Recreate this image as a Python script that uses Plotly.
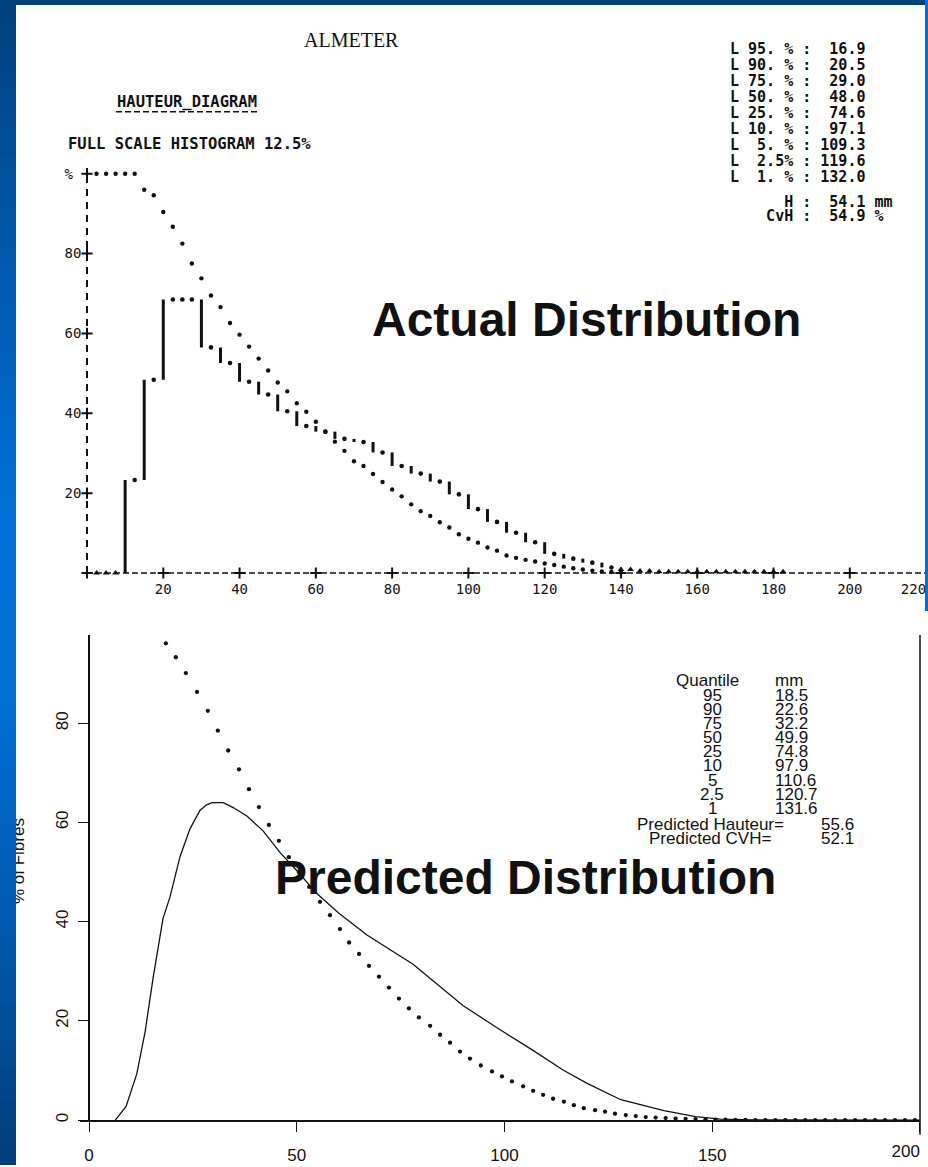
import plotly.graph_objects as go

FIG_W, FIG_H = 928, 1167

# ---------------- data : top panel (ALMETER printout) ----------------
hist_left = [0, 5, 10, 15, 20, 25, 30, 35, 40, 45, 50, 55, 60, 65, 70, 75, 80, 85, 90, 95,
             100, 105, 110, 115, 120, 125, 130, 135, 140, 145, 150, 155, 160, 165, 170, 175, 180]
hist_val = [0, 0, 23.3, 48.4, 68.5, 68.5, 56.5, 52.6, 47.9, 44.7, 40.5, 36.8, 35.4, 33.6, 32.8, 30.2,
            26.8, 24.9, 22.9, 19.7, 16.0, 12.8, 10.1, 7.7, 4.8, 3.6, 2.6, 1.4, 0.9, 0.5,
            0.3, 0.3, 0.3, 0.3, 0.3, 0.3, 0.3]
cum_x = [2.5, 5, 7.5, 10, 12.5, 15, 17.5, 20, 22.5, 25, 27.5, 30, 32.5, 35, 37.5, 40, 42.5, 45,
         47.5, 50, 52.5, 55, 57.5, 60, 62.5, 65, 67.5, 70, 72.5, 75, 77.5, 80, 82.5, 85, 87.5,
         90, 92.5, 95, 97.5, 100, 102.5, 105, 107.5, 110, 112.5, 115, 117.5, 120, 122.5, 125,
         127.5, 130, 132.5, 135, 137.5, 140]
cum_y = [100, 100, 100, 100, 100, 96.0, 94.6, 90.4, 86.7, 82.5, 77.5, 73.8, 69.5, 66.6, 62.6,
         59.7, 56.7, 53.7, 50.7, 47.7, 45.5, 42.5, 40.4, 37.9, 35.4, 32.9, 30.6, 28.0, 26.8, 24.8,
         22.8, 20.9, 19.2, 17.2, 15.5, 14.3, 12.7, 11.4, 9.7, 8.6, 7.6, 6.4, 5.6, 4.4, 3.8, 3.3,
         2.9, 2.4, 2.0, 1.6, 1.2, 0.9, 0.6, 0.4, 0.25, 0.15]
top_xticks = [20, 40, 60, 80, 100, 120, 140, 160, 180, 200]
top_xtick_edge = [220]
top_yticks = [20, 40, 60, 80, 100]
top_ytext = ["20", "40", "60", "80", "%"]
top_q_labels = ["95.", "90.", "75.", "50.", "25.", "10.", "5.", "2.5", "1."]
top_q_values = [16.9, 20.5, 29.0, 48.0, 74.6, 97.1, 109.3, 119.6, 132.0]
top_stat_labels = ["H", "CvH"]
top_stat_values = [54.1, 54.9]
top_stat_units = ["mm", "%"]

# ---------------- data : bottom panel (predicted) ----------------
pred_x = [6.3, 8.9, 11.5, 13.5, 15.4, 17.8, 19.5, 21.9, 24.3, 26.7, 28.2, 29.6, 32.3, 34.7, 38.0,
          41.9, 46.0, 50.0, 54.9, 60.0, 66.9, 78.0, 90.0, 98.2, 106.4, 114.3, 119.9, 128.0,
          138.4, 146.0, 152.0, 160.0, 200.0]
pred_y = [0, 2.7, 9.3, 17.8, 28.5, 40.6, 45.0, 53.1, 58.7, 62.4, 63.5, 64.0, 64.0, 63.0, 61.3,
          58.3, 53.9, 50.3, 45.6, 41.8, 37.3, 31.4, 23.1, 18.6, 14.3, 10.0, 7.4, 4.1,
          1.9, 0.7, 0.2, 0.05, 0]
pcum_x = [18.5, 20.9, 23.3, 26.0, 28.6, 31.0, 33.5, 36.1, 38.5, 40.9, 43.3, 45.7, 48.1, 50.5,
          53.0, 55.6, 58.0, 60.4, 62.6, 65.0, 67.4, 69.8, 72.2, 74.6, 77.0, 79.4, 82.1, 84.5,
          86.9, 89.3, 91.7, 94.3, 97.0, 99.4, 101.8, 104.5, 106.9, 109.3, 111.7, 114.3, 116.7,
          119.1, 121.8, 124.2, 126.6, 129.2, 131.6, 134.0, 136.4, 138.8, 141.2, 143.6, 146.0,
          148.4, 150.8, 153.2, 155.6, 158.0, 160.4, 162.8, 165.2, 167.6, 170.0, 172.4, 174.8,
          177.2, 179.6, 182.0, 184.4, 186.8, 189.2, 191.6, 194.0, 196.4, 198.8]
pcum_y = [96.1, 93.3, 90.1, 86.3, 82.5, 78.5, 74.5, 70.7, 66.7, 63.1, 59.5, 56.3, 53.0, 50.0,
          47.0, 44.0, 41.3, 38.5, 35.8, 33.5, 31.1, 28.9, 26.7, 24.5, 22.5, 20.7, 19.0, 17.2,
          15.6, 13.8, 12.4, 11.0, 9.8, 8.8, 7.8, 6.8, 5.9, 5.1, 4.3, 3.7, 3.0,
          2.4, 2.0, 1.7, 1.3, 1.0, 0.8, 0.6, 0.5, 0.4, 0.3, 0.25, 0.2,
          0.15, 0.1, 0.1, 0.05, 0.05, 0, 0, 0, 0, 0, 0, 0,
          0, 0, 0, 0, 0, 0, 0, 0, 0, 0]
bot_xticks = [0, 50, 100, 150, 200]
bot_yticks = [0, 20, 40, 60, 80]
pred_q_labels = ["95", "90", "75", "50", "25", "10", "5", "2.5", "1"]
pred_q_mm = [18.5, 22.6, 32.2, 49.9, 74.8, 97.9, 110.6, 120.7, 131.6]
pred_stat_labels = ["Predicted Hauteur=", "Predicted CVH="]
pred_stat_values = [55.6, 52.1]

# ---------------- helpers ----------------
def px(x):
    return x / FIG_W


def py(y):
    return 1 - y / FIG_H


def nb(s):
    return s.replace(" ", "\u00a0")


MONO = "DejaVu Sans Mono"
SANS = "Liberation Sans, Arial, sans-serif"
SERIF = "Liberation Serif, Times New Roman, serif"
INK = "#111111"

fig = go.Figure()

# ---------------- top panel marks ----------------
bar_x, bar_y, dot_x, dot_y = [], [], [], []
bw = hist_left[1] - hist_left[0]
for i, (l, v) in enumerate(zip(hist_left, hist_val)):
    prev = hist_val[i - 1] if i > 0 else 0
    if i > 0 and abs(v - prev) > 0.5:
        bar_x += [l, l, None]
        bar_y += [prev, v, None]
    elif l > 0:
        dot_x.append(l)
        dot_y.append(v)
    dot_x.append(l + bw / 2)
    dot_y.append(v)
dot_sym = ["triangle-up" if v < 1 else "circle" for v in dot_y]

# dashed axes of the printout
fig.add_trace(go.Scatter(x=[0, 0], y=[0, top_yticks[-1]], mode="lines",
                         line=dict(color=INK, width=2, dash="7px,6px"), hoverinfo="skip"))
fig.add_trace(go.Scatter(x=[0, top_xtick_edge[-1]], y=[0, 0], mode="lines",
                         line=dict(color=INK, width=1.6, dash="6px,3px"), hoverinfo="skip"))
plus_x = [0] + top_xticks + [0] * len(top_yticks)
plus_y = [0] + [0] * len(top_xticks) + top_yticks
fig.add_trace(go.Scatter(x=plus_x, y=plus_y, mode="markers", cliponaxis=False,
                         marker=dict(symbol="cross-thin", size=8,
                                     line=dict(color=INK, width=2)), hoverinfo="skip"))
fig.add_trace(go.Scatter(x=bar_x, y=bar_y, mode="lines", line=dict(color=INK, width=3),
                         hoverinfo="skip"))
fig.add_trace(go.Scatter(x=dot_x, y=dot_y, mode="markers", cliponaxis=False,
                         marker=dict(color=INK, opacity=1,
                                     size=[6 if s != "circle" else 4.6 for s in dot_sym],
                                     symbol=dot_sym, line=dict(width=0)), hoverinfo="skip"))
fig.add_trace(go.Scatter(x=cum_x, y=cum_y, mode="markers", cliponaxis=False,
                         marker=dict(color=INK, size=4.4, line=dict(width=0)), hoverinfo="skip"))
# carrier for the edge tick-label axis of the top panel
fig.add_trace(go.Scatter(x=[100], y=[50], mode="markers", xaxis="x4", yaxis="y",
                         marker=dict(opacity=0), hoverinfo="skip"))

# ---------------- bottom panel marks ----------------
fig.add_trace(go.Scatter(x=pred_x, y=pred_y, mode="lines", xaxis="x2", yaxis="y2",
                         line=dict(color=INK, width=1.3), hoverinfo="skip"))
fig.add_trace(go.Scatter(x=pcum_x, y=pcum_y, mode="markers", xaxis="x2", yaxis="y2",
                         cliponaxis=False, marker=dict(color=INK, size=4.3, line=dict(width=0)),
                         hoverinfo="skip"))
# carriers for the (partly hidden) y title axis and the edge tick-label axis
fig.add_trace(go.Scatter(x=[100], y=[50], mode="markers", xaxis="x2", yaxis="y3",
                         marker=dict(opacity=0), hoverinfo="skip"))
fig.add_trace(go.Scatter(x=[100], y=[50], mode="markers", xaxis="x3", yaxis="y2",
                         marker=dict(opacity=0), hoverinfo="skip"))

# ---------------- axes ----------------
top_x0, top_scale = 87, 3.814
xr_top = [-2, 220.05]
yr_top = [-2, 102]
xr_bot = [-2.17, 200.02]
top_tick_font = dict(family=MONO, size=14, color=INK)
bot_tick_font = dict(family=SANS, size=17, color=INK)
fig.update_layout(
    xaxis=dict(domain=[px(top_x0 + xr_top[0] * top_scale), px(top_x0 + xr_top[1] * top_scale)],
               range=xr_top, anchor="y", showline=False, showgrid=False, zeroline=False,
               tickvals=top_xticks, ticks="", ticklabelstandoff=-2, tickfont=top_tick_font),
    xaxis4=dict(overlaying="x", range=xr_top, anchor="y", showline=False, showgrid=False,
                zeroline=False, tickvals=top_xtick_edge, ticks="", ticklabelstandoff=-2,
                ticklabelposition="outside left", tickfont=top_tick_font),
    yaxis=dict(domain=[py(574 + 2 * 4), py(574 - 102 * 4)], range=yr_top, anchor="x",
               showline=False, showgrid=False, zeroline=False,
               tickvals=top_yticks, ticktext=[nb(t.ljust(2)) for t in top_ytext], ticks="",
               ticklabelstandoff=-3, tickfont=top_tick_font),
    xaxis2=dict(domain=[px(80), px(920)], range=xr_bot, anchor="y2",
                showline=True, linecolor=INK, linewidth=1.5, showgrid=False, zeroline=False,
                tickvals=bot_xticks,
                ticktext=[str(t) if t < bot_xticks[-1] else "" for t in bot_xticks],
                ticks="outside", ticklen=10, tickwidth=1.2, tickcolor=INK,
                ticklabelstandoff=9, tickfont=bot_tick_font),
    xaxis3=dict(overlaying="x2", range=xr_bot, anchor="y2", showline=False, showgrid=False,
                zeroline=False, tickvals=bot_xticks[-1:], ticks="",
                ticklabelstandoff=19, ticklabelposition="outside left", tickfont=bot_tick_font),
    yaxis2=dict(domain=[py(1122), py(636)], range=[0, 97.8], anchor="free", position=px(89),
                showline=True, linecolor=INK, linewidth=1.5, showgrid=False, zeroline=False,
                tickvals=bot_yticks, ticks="outside", ticklen=10, tickwidth=1.2, tickcolor=INK,
                tickangle=-90, ticklabelstandoff=3, tickfont=bot_tick_font),
    yaxis3=dict(overlaying="y2", range=[0, 97.8], anchor="free", position=px(27), side="left",
                showline=False, showgrid=False, zeroline=False, ticks="",
                tickvals=[51.7], ticktext=["% of Fibres"], tickangle=-90,
                ticklabelstandoff=0, tickfont=bot_tick_font),
)

# right frame line of the bottom panel
shapes = [dict(type="line", xref="x2 domain", yref="y2 domain", x0=1, x1=1, y0=-0.03, y1=1,
               line=dict(color=INK, width=1.5), layer="above")]
# dashed underline of the printout heading
shapes.append(dict(type="line", xref="paper", yref="paper", x0=px(116), x1=px(258),
                   y0=py(112), y1=py(112), line=dict(color=INK, width=1.6, dash="6px,3px")))

# ---------------- blue slide background (decoration) ----------------
strip_stops = [(0, (0, 64, 126)), (250, (0, 88, 172)), (520, (0, 112, 216)),
               (700, (0, 110, 212)), (900, (0, 92, 180)), (1167, (0, 62, 122))]


def strip_color(yv):
    for (y0, c0), (y1, c1) in zip(strip_stops[:-1], strip_stops[1:]):
        if y0 <= yv <= y1:
            t = (yv - y0) / (y1 - y0)
            return "rgb(%d,%d,%d)" % tuple(round(a + (b - a) * t) for a, b in zip(c0, c1))
    return "rgb(%d,%d,%d)" % strip_stops[-1][1]


band = 12
for y0 in range(0, FIG_H, band):
    y1 = min(FIG_H, y0 + band + 1)
    shapes.append(dict(type="rect", xref="paper", yref="paper", x0=0, x1=px(16),
                       y0=py(y1), y1=py(y0), line=dict(width=0),
                       fillcolor=strip_color(y0 + band / 2), layer="above"))
shapes.append(dict(type="rect", xref="paper", yref="paper", x0=0, x1=1, y0=py(5), y1=1,
                   line=dict(width=0), fillcolor="rgb(0,64,126)", layer="above"))
shapes.append(dict(type="rect", xref="paper", yref="paper", x0=px(925), x1=1,
                   y0=py(612), y1=1, line=dict(width=0), fillcolor="rgb(0,112,216)",
                   layer="above"))

# ---------------- text ----------------
ann = []


def text(t, x, y, size, family, xanchor="center", color=INK):
    ann.append(dict(text=t, x=px(x), y=py(y), xref="paper", yref="paper", showarrow=False,
                    xanchor=xanchor, yanchor="middle", borderpad=0,
                    font=dict(family=family, size=size, color=color)))


text("ALMETER", 351, 40, 20, SERIF)
text("<b>HAUTEUR_DIAGRAM</b>", 116, 102, 15.5, MONO, "left")
text("<b>" + nb("FULL SCALE HISTOGRAM 12.5%") + "</b>", 67, 144, 15.5, MONO, "left")

row0, drow = 49, 16
for i, (lab, val) in enumerate(zip(top_q_labels, top_q_values)):
    s = lab.rjust(3) + " " if lab.endswith(".") else lab.rjust(4)
    text("<b>" + nb("L %s%% : %5.1f" % (s, val)) + "</b>", 729, row0 + i * drow, 15, MONO, "left")
for j, (lab, val, unit) in enumerate(zip(top_stat_labels, top_stat_values, top_stat_units)):
    text("<b>" + nb("%s : %5.1f %s" % (lab.rjust(7), val, unit)) + "</b>", 729, 202 + j * 14,
         15, MONO, "left")

text("<b>Actual Distribution</b>", 586, 320, 48, SANS)

q0, dq = 682, 14.2
text("Quantile", 707, q0, 17, SANS)
text("mm", 774, q0, 17, SANS, "left")
for i, (lab, mmv) in enumerate(zip(pred_q_labels, pred_q_mm)):
    text(lab, 712, q0 + (i + 1) * dq, 17, SANS)
    text("%.1f" % mmv, 774, q0 + (i + 1) * dq, 17, SANS, "left")
for j, (lab, val) in enumerate(zip(pred_stat_labels, pred_stat_values)):
    text(lab, 710, q0 + (len(pred_q_labels) + 1) * dq + 2 + j * dq, 17, SANS)
    text("%.1f" % val, 820, q0 + (len(pred_q_labels) + 1) * dq + 2 + j * dq, 17, SANS, "left")

text("<b>Predicted Distribution</b>", 525, 879, 48, SANS)

fig.update_layout(width=FIG_W, height=FIG_H, margin=dict(l=0, r=0, t=0, b=0),
                  showlegend=False, paper_bgcolor="white", plot_bgcolor="rgba(0,0,0,0)",
                  shapes=shapes, annotations=ann)

fig.write_html("out.html", config={"displayModeBar": False})
